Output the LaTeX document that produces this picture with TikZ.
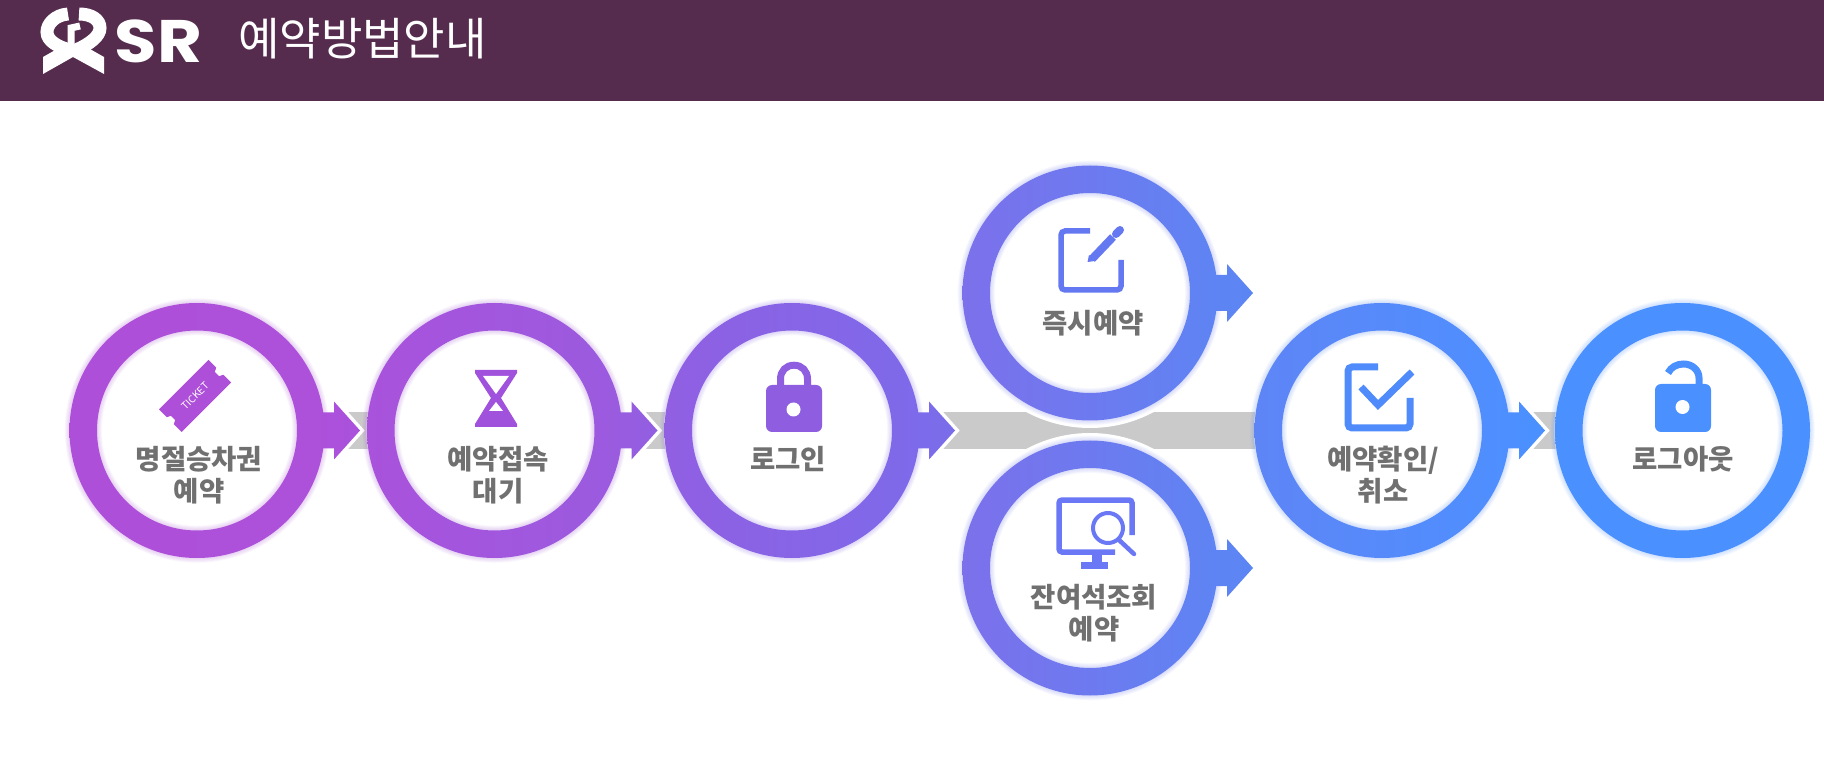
\documentclass[tikz,border=0pt]{standalone}
\usepackage{fontspec}
\newfontfamily\krfont{Noto Sans CJK KR}
\newfontfamily\popfont[FakeStretch=1.15]{Poppins}
\usetikzlibrary{calc}
\pgfdeclarelayer{bandlayer}
\pgfdeclarelayer{ringlayer}
\pgfsetlayers{bandlayer,ringlayer,main}
\definecolor{hdr}{HTML}{552C4E}
\definecolor{lblgray}{HTML}{707070}
\definecolor{bandgray}{HTML}{CACACA}
\definecolor{ring1a}{HTML}{AE4FDA}
\definecolor{ring1b}{HTML}{AD50DA}
\definecolor{ring2a}{HTML}{A952DC}
\definecolor{ring2b}{HTML}{9A5BDF}
\definecolor{ring3a}{HTML}{915FE2}
\definecolor{ring3b}{HTML}{7D6AEA}
\definecolor{ring3c}{HTML}{7A6DEA}
\definecolor{ring4a}{HTML}{7C70EB}
\definecolor{ring4b}{HTML}{5E84F3}
\definecolor{ring4c}{HTML}{5C85F4}
\definecolor{ring6a}{HTML}{5E85F6}
\definecolor{ring6b}{HTML}{4E8FFF}
\definecolor{ring7a}{HTML}{4A90FF}
\definecolor{ring2i}{HTML}{A052DD}
\definecolor{ring3i}{HTML}{8F5EE0}
\definecolor{ring4i}{HTML}{6478F2}
\definecolor{ring5i}{HTML}{6B78F5}
\definecolor{ring6i}{HTML}{4F8BFB}
\tikzset{
  lbl/.style={font=\fontsize{27.5}{32.5}\selectfont\krfont\bfseries, text=lblgray, align=center, inner sep=0pt},
  band/.style={draw=bandgray, line width=36.5pt},
}
\newcommand{\ringdraw}[3]{%
  \foreach \i in {1,...,6}{\draw[#2!50!#3, opacity=.045, line width={27.5pt+1.6pt*\i}] (#1) circle[radius=113.75];}
  \path[left color=#2, right color=#3, even odd rule] (#1) circle[radius=127.5] (#1) circle[radius=100];
}
\newcommand{\arrowpoly}{(118,-18) -- (137,-18) -- (137,-29) -- (163,0) -- (137,29) -- (137,18) -- (118,18) -- cycle}
\newcommand{\arrowhalo}[1]{\begin{scope}[shift={(#1)}]\draw[white, line width=7pt, miter limit=10] \arrowpoly;\end{scope}}
\newcommand{\arrowfill}[3]{\begin{scope}[shift={(#1)}]\path[left color=#2, right color=#3] \arrowpoly;\end{scope}}
\begin{document}
\begin{tikzpicture}[x=1pt,y=-1pt]
\useasboundingbox (0,0) rectangle (1824,783);
% centres
\coordinate (c1) at (197,430.5);
\coordinate (c2) at (494.5,430.5);
\coordinate (c3) at (792,430.5);
\coordinate (c4) at (1090,293);
\coordinate (c5) at (1090,568);
\coordinate (c6) at (1382,430.5);
\coordinate (c7) at (1682.5,430.5);
% header
\fill[hdr] (0,0) rectangle (1824,101);
\node[font=\fontsize{45}{45}\selectfont\krfont, text=white, inner sep=0pt] (title) at (362.5,39) {예약방법안내};
\node[font=\fontsize{60}{60}\selectfont\popfont\bfseries, text=white, inner sep=0pt] (srtext) at (158.5,41) {SR};
% logo
\fill[white] (43,74) -- (43,57) -- (66,44) -- (81,44) -- (104,57) -- (104,74) -- (73,57) -- cycle;
\draw[white, line width=13pt] (68,14) .. controls (55,15) and (47,24) .. (47,32) .. controls (47,41) and (58,47) .. (70,50);
\draw[white, line width=13pt] (79,14) .. controls (92,14) and (100,20) .. (100,28) .. controls (100,36) and (90,44) .. (76,50);
\draw[white, line width=7pt] (80,26) -- (71,28) -- (71,48);
% connectors
\begin{pgfonlayer}{bandlayer}
\fill[white] (0,0) rectangle (1824,783);
\draw[band] (c1) -- (c2);
\draw[band] (c2) -- (c3);
\draw[band] (c3) -- (c6);
\draw[band] (c6) -- (c7);
\end{pgfonlayer}
\begin{pgfonlayer}{ringlayer}
\foreach \c in {c1,c2,c3,c6,c7}{\fill[white] (\c) circle[radius=128];}
\foreach \c in {c4,c5}{\fill[white] (\c) circle[radius=135];}
\foreach \c in {c1,c2,c3,c6}{\arrowhalo{\c}}
\ringdraw{c1}{ring1a}{ring1b}
\ringdraw{c2}{ring2a}{ring2b}
\ringdraw{c3}{ring3a}{ring3b}
\ringdraw{c4}{ring4a}{ring4b}
\ringdraw{c5}{ring4a}{ring4b}
\ringdraw{c6}{ring6a}{ring6b}
\ringdraw{c7}{ring7a}{ring7a}
\arrowfill{c1}{ring1b}{ring2a}
\arrowfill{c2}{ring2b}{ring3a}
\arrowfill{c3}{ring3b}{ring3c}
\arrowfill{c4}{ring4b}{ring4c}
\arrowfill{c5}{ring4b}{ring4c}
\arrowfill{c6}{ring6b}{ring7a}
\end{pgfonlayer}
% labels
\node[lbl] (n1) at (199,475) {명절승차권\\예약};
\node[lbl] (n2) at (498,475) {예약접속\\대기};
\node[lbl] (n3) at (788,459) {로그인};
\node[lbl] (n4) at (1093,323) {즉시예약};
\node[lbl] (n5) at (1094,613) {잔여석조회\\예약};
\node[lbl] (n6) at (1383,475) {예약확인/\\취소};
\node[lbl] (n7) at (1683,459) {로그아웃};
% ticket icon
\begin{scope}[shift={(195,396)}, x={(.7071pt,.7071pt)}, y={(.7071pt,-.7071pt)}]
\fill[ring1a] (-35,-16) -- (35,-16) -- (35,-5) -- (31,-3) -- (31,3) -- (35,5) -- (35,16) -- (-35,16) -- (-35,5) -- (-31,3) -- (-31,-3) -- (-35,-5) -- cycle;
\node[rotate=45, text=white, inner sep=0pt, font=\fontsize{10}{10}\selectfont\krfont] (tk) at (0,0) {TICKET};
\end{scope}
% hourglass icon
\fill[ring2i] (475,370) -- (517,370) -- (517,373) -- (501,398) -- (517,424) -- (517,427) -- (475,427) -- (475,424) -- (491,398) -- (475,373) -- cycle;
\fill[white] (483,376) -- (509,376) -- (496,394) -- cycle;
\fill[white] (489,411) -- (503,411) -- (496,402) -- cycle;
% lock icon
\draw[ring3i, line width=7pt] (780.5,390) -- (780.5,379) .. controls (780.5,371) and (786,365.2) .. (794,365.2) .. controls (802,365.2) and (807.5,371) .. (807.5,379) -- (807.5,390);
\fill[ring3i, rounded corners=6pt] (766,385) rectangle (822,432);
\fill[white] (793.5,409.5) circle[radius=7];
% edit icon
\draw[ring4i, line width=5.5pt, rounded corners=4pt] (1090,231) -- (1061,231) -- (1061,290) -- (1121,290) -- (1121,260);
\draw[ring4i, line width=8pt] (1092,259) -- (1113,237);
\fill[ring4i] (1087.5,262) -- (1089,255) -- (1095,261) -- cycle;
\draw[ring4i, line width=8pt, line cap=round] (1116,234) -- (1120,230);
% monitor icon
\draw[ring5i, line width=5.5pt, rounded corners=3pt] (1132,535) -- (1132,500) -- (1059,500) -- (1059,552) -- (1115,552);
\fill[ring5i] (1092,552) rectangle (1102,565);
\fill[ring5i] (1081,562) rectangle (1108,569);
\draw[ring5i, line width=4pt] (1108,528) circle[radius=15];
\draw[ring5i, line width=4.5pt, line cap=round] (1119,540) -- (1134,554);
% check icon
\draw[ring6i, line width=7pt, rounded corners=4pt] (1378,367) -- (1348,367) -- (1348,428) -- (1410,428) -- (1410,398);
\draw[ring6i, line width=7pt] (1361,387) -- (1378,405) -- (1412,372);
% open lock icon
\draw[ring7a, line width=7pt] (1668,373) .. controls (1671,367) and (1677,364) .. (1683.5,364) .. controls (1692,364) and (1699,370) .. (1699,378) -- (1699,390);
\fill[ring7a, rounded corners=6pt] (1655,384) rectangle (1711,432);
\fill[white] (1682.5,407) circle[radius=7];
\end{tikzpicture}
\end{document}
